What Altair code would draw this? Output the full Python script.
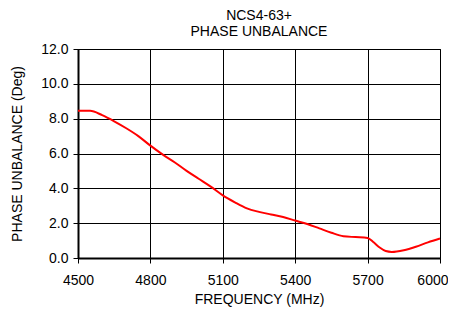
import altair as alt
import pandas as pd

freq = [4500, 4550, 4600, 4650, 4700, 4750, 4800, 4850, 4900, 4950, 5000, 5050,
        5100, 5150, 5200, 5250, 5300, 5350, 5400, 5450, 5500, 5550, 5600, 5650,
        5700, 5725, 5750, 5775, 5800, 5850, 5900, 5950, 6000]
phase = [8.45, 8.45, 8.2, 7.85, 7.45, 7.0, 6.45, 5.95, 5.5, 5.0, 4.55, 4.1,
         3.6, 3.2, 2.85, 2.65, 2.5, 2.35, 2.15, 1.95, 1.7, 1.45, 1.25, 1.2,
         1.15, 0.9, 0.6, 0.4, 0.35, 0.45, 0.65, 0.9, 1.12]
x_ticks = [4500, 4800, 5100, 5400, 5700, 6000]
y_ticks = [0, 2, 4, 6, 8, 10, 12]

df = pd.DataFrame({"freq": freq, "phase": phase})
FONT = "Liberation Sans"

last_test = "datum.value == 6000"

chart = alt.Chart(df).mark_line(color="#ff0000", strokeWidth=2, interpolate="monotone").encode(
    x=alt.X("freq:Q", scale=alt.Scale(domain=[4500, 6000], nice=False),
            axis=alt.Axis(title="FREQUENCY (MHz)", values=x_ticks, format="d",
                          labelFlush=False, labelPadding=10, titlePadding=5,
                          labelAlign={"condition": {"test": last_test, "value": "right"}, "value": "center"},
                          labelOffset={"condition": {"test": last_test, "value": 8}, "value": 0})),
    y=alt.Y("phase:Q", scale=alt.Scale(domain=[0, 12], nice=False),
            axis=alt.Axis(title="PHASE UNBALANCE (Deg)", values=y_ticks, format=".1f",
                          labelPadding=5, titlePadding=16)),
).properties(
    width=362, height=209,
    title=alt.TitleParams(text=["NCS4-63+", "PHASE UNBALANCE"], font=FONT, fontSize=14,
                          fontWeight="normal", color="black", anchor="middle", offset=3,
                          lineHeight=16),
    autosize=alt.AutoSizeParams(type="none"),
    padding={"left": 70, "top": 41, "right": 8, "bottom": 50},
).configure_view(stroke="black", strokeWidth=1).configure_axis(
    grid=True, gridColor="black", gridOpacity=1, gridWidth=1,
    domainColor="black", domainWidth=2, tickColor="black", tickSize=5,
    labelFont=FONT, labelFontSize=14, labelColor="black",
    titleFont=FONT, titleFontSize=14, titleColor="black", titleFontWeight="normal",
)

chart.save("out.html", embed_options={"renderer": "svg", "actions": False})
